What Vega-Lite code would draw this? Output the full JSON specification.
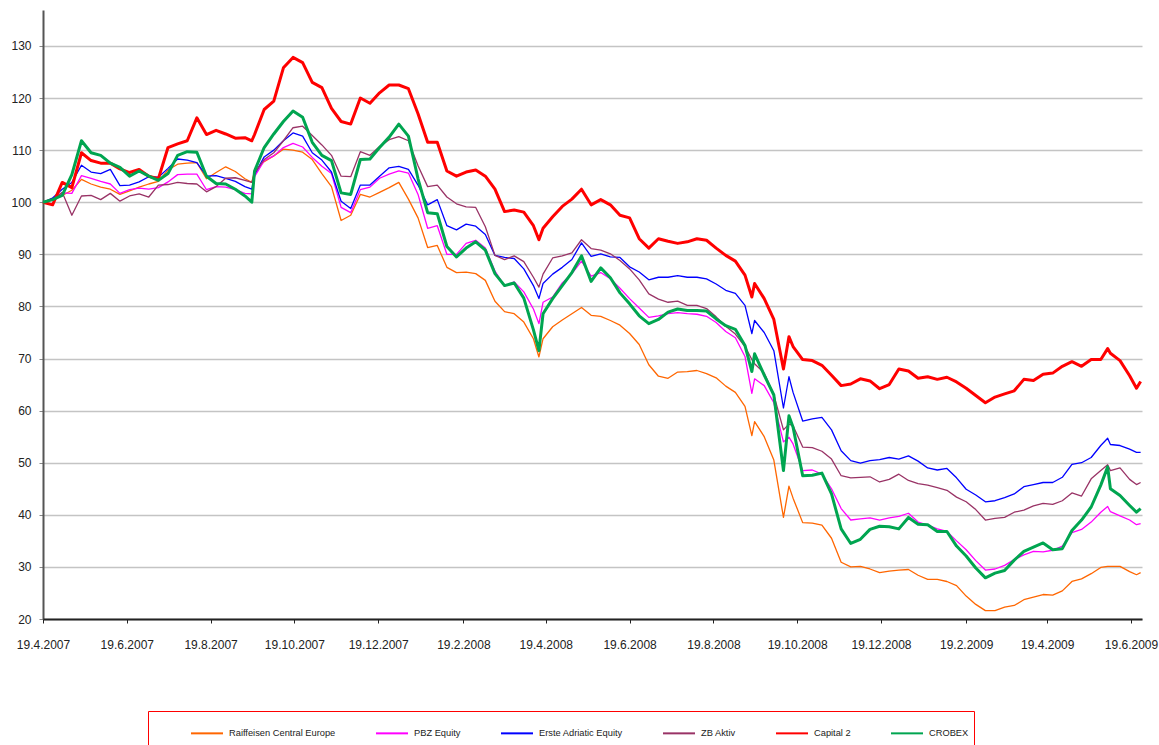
{
"$schema": "https://vega.github.io/schema/vega-lite/v6.json",
"width": 1099,
"height": 609,
"autosize": {"type": "none"},
"padding": {"left": 43, "top": 10, "right": 17, "bottom": 126},
"background": "white",
"config": {
  "view": {"stroke": null},
  "font": "Liberation Sans",
  "legend": {
    "orient": "none", "legendX": 105, "legendY": 701,
    "direction": "horizontal", "columns": 6,
    "titleOrient": "left", "titlePadding": 37, "titleFontSize": 40, "titleBaseline": "top",
    "padding": 5, "strokeColor": "#FF0000",
    "symbolType": "stroke", "symbolSize": 1024, "symbolStrokeWidth": 2,
    "labelFont": "Liberation Sans", "labelFontSize": 9.3, "labelColor": "#222222",
    "columnPadding": 36, "labelOffset": 5, "labelLimit": 0
  }
},
"data": {"values": [
{"d":"2007-04-19","r":100,"p":100,"e":100,"z":100,"c":100,"x":100},
{"d":"2007-04-26","r":100.8,"p":100.5,"e":100.8,"z":100.5,"c":99.5,"x":100.5},
{"d":"2007-05-03","r":101.3,"p":101.8,"e":102.5,"z":101.9,"c":103.8,"x":101.3},
{"d":"2007-05-10","r":102.3,"p":101.7,"e":103.8,"z":97.5,"c":102.8,"x":105.3},
{"d":"2007-05-17","r":104.4,"p":105.1,"e":107.1,"z":101.2,"c":109.5,"x":111.8},
{"d":"2007-05-24","r":103.5,"p":104.6,"e":105.8,"z":101.3,"c":108,"x":109.5},
{"d":"2007-05-31","r":102.9,"p":104,"e":105.5,"z":100.5,"c":107.5,"x":109},
{"d":"2007-06-07","r":102.5,"p":103.5,"e":106.3,"z":101.7,"c":107.5,"x":107.5},
{"d":"2007-06-14","r":101.5,"p":101.7,"e":103.2,"z":100.2,"c":106.4,"x":106.7},
{"d":"2007-06-21","r":102.2,"p":102.4,"e":103.3,"z":101.2,"c":105.7,"x":105},
{"d":"2007-06-28","r":102.9,"p":102.7,"e":103.9,"z":101.6,"c":106.3,"x":106},
{"d":"2007-07-05","r":103.5,"p":102.5,"e":104.9,"z":101,"c":105,"x":105},
{"d":"2007-07-12","r":104,"p":102.8,"e":104.8,"z":103.3,"c":104.5,"x":104.2},
{"d":"2007-07-19","r":106.2,"p":103.9,"e":106.5,"z":103.4,"c":110.5,"x":105.5},
{"d":"2007-07-26","r":107.3,"p":105.3,"e":108.3,"z":103.8,"c":111.2,"x":109},
{"d":"2007-08-02","r":107.5,"p":105.4,"e":108.1,"z":103.6,"c":111.8,"x":109.7},
{"d":"2007-08-09","r":107.6,"p":105.4,"e":107.6,"z":103.5,"c":116.2,"x":109.6},
{"d":"2007-08-16","r":104.5,"p":102.4,"e":105,"z":102,"c":113,"x":105},
{"d":"2007-08-23","r":105.7,"p":103,"e":105.1,"z":103,"c":113.8,"x":103.6},
{"d":"2007-08-30","r":106.8,"p":102.9,"e":104.6,"z":104.6,"c":113.1,"x":103.5},
{"d":"2007-09-06","r":105.9,"p":102.4,"e":104,"z":104.7,"c":112.3,"x":102.5},
{"d":"2007-09-13","r":104.5,"p":101.7,"e":103,"z":104.2,"c":112.4,"x":101.2},
{"d":"2007-09-18","r":103.8,"p":101.6,"e":102.5,"z":103.8,"c":111.8,"x":100},
{"d":"2007-09-20","r":106,"p":104.9,"e":105.3,"z":105.6,"c":113,"x":106},
{"d":"2007-09-27","r":107.8,"p":108,"e":108.7,"z":108.2,"c":117.8,"x":110.5},
{"d":"2007-10-04","r":108.9,"p":108.9,"e":110,"z":109.5,"c":119.4,"x":113.1},
{"d":"2007-10-11","r":110.2,"p":110.5,"e":111.8,"z":111.8,"c":125.8,"x":115.5},
{"d":"2007-10-18","r":110,"p":111.3,"e":113.3,"z":114.3,"c":127.8,"x":117.5},
{"d":"2007-10-25","r":109.6,"p":110.6,"e":112.7,"z":114.6,"c":126.8,"x":116.3},
{"d":"2007-11-01","r":108.2,"p":108.6,"e":109.5,"z":112.8,"c":123,"x":111.5},
{"d":"2007-11-08","r":105.5,"p":106.9,"e":108.1,"z":111,"c":122,"x":109},
{"d":"2007-11-15","r":103,"p":105.5,"e":105.8,"z":109,"c":118,"x":108},
{"d":"2007-11-22","r":96.5,"p":99,"e":100.2,"z":105,"c":115.5,"x":101.8},
{"d":"2007-11-29","r":97.5,"p":98,"e":98.8,"z":104.9,"c":115,"x":101.5},
{"d":"2007-12-06","r":101.5,"p":102.4,"e":103.3,"z":109.7,"c":120,"x":108.2},
{"d":"2007-12-13","r":101,"p":102.9,"e":103.3,"z":109,"c":119,"x":108.3},
{"d":"2007-12-20","r":101.9,"p":104.6,"e":105,"z":110.7,"c":121,"x":110.5},
{"d":"2007-12-27","r":102.8,"p":105.4,"e":106.6,"z":112,"c":122.5,"x":112.5},
{"d":"2008-01-03","r":103.8,"p":106,"e":106.9,"z":112.6,"c":122.5,"x":115},
{"d":"2008-01-10","r":100.6,"p":105.6,"e":106.3,"z":111.8,"c":121.8,"x":112.7},
{"d":"2008-01-17","r":97,"p":101.5,"e":103.3,"z":107,"c":117,"x":104.5},
{"d":"2008-01-24","r":91.3,"p":95,"e":99.5,"z":103,"c":111.5,"x":98},
{"d":"2008-01-31","r":91.7,"p":95.5,"e":100.5,"z":103.3,"c":111.5,"x":97.8},
{"d":"2008-02-07","r":87.5,"p":90,"e":95.5,"z":101,"c":106,"x":91.5},
{"d":"2008-02-14","r":86.5,"p":90,"e":94.7,"z":99.7,"c":105,"x":89.5},
{"d":"2008-02-21","r":86.6,"p":92.1,"e":95.8,"z":99.1,"c":105.8,"x":91.2},
{"d":"2008-02-28","r":86.3,"p":92.7,"e":95.4,"z":99,"c":106.2,"x":92.4},
{"d":"2008-03-06","r":85,"p":91.2,"e":93.8,"z":95.3,"c":105,"x":90.8},
{"d":"2008-03-13","r":81,"p":86.8,"e":89.8,"z":89.8,"c":102.5,"x":86.3},
{"d":"2008-03-20","r":79,"p":83.9,"e":89.4,"z":89,"c":98.2,"x":84},
{"d":"2008-03-27","r":78.6,"p":84.7,"e":89.2,"z":89.7,"c":98.5,"x":84.5},
{"d":"2008-04-03","r":77,"p":82.8,"e":87.2,"z":88.6,"c":98.1,"x":81.6},
{"d":"2008-04-10","r":73.8,"p":79.5,"e":84,"z":85.6,"c":95.5,"x":75.5},
{"d":"2008-04-14","r":70.3,"p":76.7,"e":81.5,"z":83.7,"c":92.8,"x":71.5},
{"d":"2008-04-17","r":73.8,"p":80.8,"e":84.4,"z":86.2,"c":95,"x":78.6},
{"d":"2008-04-24","r":76.1,"p":81.8,"e":86.2,"z":89.3,"c":97.2,"x":81.5},
{"d":"2008-05-01","r":77.4,"p":84.5,"e":87.5,"z":89.7,"c":99.2,"x":84},
{"d":"2008-05-08","r":78.6,"p":86.3,"e":89,"z":90.3,"c":100.6,"x":86.5},
{"d":"2008-05-15","r":79.8,"p":88.7,"e":92.2,"z":92.8,"c":102.5,"x":89.7},
{"d":"2008-05-22","r":78.3,"p":85.8,"e":89.6,"z":91.1,"c":99.5,"x":84.8},
{"d":"2008-05-29","r":78.1,"p":86.5,"e":90.1,"z":90.8,"c":100.5,"x":87.4},
{"d":"2008-06-05","r":77.3,"p":85.3,"e":89.5,"z":90.1,"c":99.5,"x":85.5},
{"d":"2008-06-12","r":76.4,"p":83.5,"e":89.4,"z":88.8,"c":97.5,"x":82.6},
{"d":"2008-06-19","r":74.8,"p":81.5,"e":87.6,"z":87.2,"c":97,"x":80.5},
{"d":"2008-06-26","r":72.7,"p":79.7,"e":86.6,"z":85.1,"c":93,"x":78.2},
{"d":"2008-07-03","r":68.8,"p":77.9,"e":85.1,"z":82.4,"c":91.2,"x":76.7},
{"d":"2008-07-10","r":66.6,"p":78.2,"e":85.6,"z":81.4,"c":93,"x":77.5},
{"d":"2008-07-17","r":66.2,"p":78.6,"e":85.6,"z":80.8,"c":92.5,"x":78.9},
{"d":"2008-07-24","r":67.4,"p":78.8,"e":85.9,"z":81,"c":92.1,"x":79.5},
{"d":"2008-07-31","r":67.5,"p":78.6,"e":85.6,"z":80.2,"c":92.4,"x":79.2},
{"d":"2008-08-07","r":67.7,"p":78.5,"e":85.6,"z":80.2,"c":93,"x":79.2},
{"d":"2008-08-14","r":67.1,"p":78.1,"e":85.3,"z":79.6,"c":92.7,"x":79.1},
{"d":"2008-08-21","r":66.3,"p":76.9,"e":84.3,"z":78,"c":91.2,"x":77.6},
{"d":"2008-08-28","r":64.7,"p":75.2,"e":83.1,"z":76.2,"c":89.8,"x":76.3},
{"d":"2008-09-04","r":63.5,"p":74,"e":82.5,"z":74.7,"c":88.7,"x":75.6},
{"d":"2008-09-11","r":60.8,"p":70.4,"e":80.2,"z":72.3,"c":86,"x":72.5},
{"d":"2008-09-16","r":55.2,"p":63.3,"e":74.8,"z":69.8,"c":81.8,"x":67.5},
{"d":"2008-09-18","r":57.9,"p":66.1,"e":77.3,"z":69,"c":84.4,"x":70.9},
{"d":"2008-09-25","r":55,"p":64.8,"e":75,"z":67.2,"c":81.5,"x":66.8},
{"d":"2008-10-02","r":50.5,"p":61.5,"e":71.5,"z":63,"c":77.5,"x":63},
{"d":"2008-10-09","r":39.5,"p":54,"e":60.5,"z":56.3,"c":68,"x":48.5},
{"d":"2008-10-13","r":45.5,"p":54.9,"e":66.5,"z":57.4,"c":74.2,"x":59},
{"d":"2008-10-16","r":43.2,"p":53.6,"e":63.5,"z":57.1,"c":72.3,"x":56.8},
{"d":"2008-10-23","r":38.5,"p":48.5,"e":58,"z":53,"c":69.8,"x":47.5},
{"d":"2008-10-30","r":38.4,"p":48.6,"e":58.4,"z":52.9,"c":69.6,"x":47.6},
{"d":"2008-11-06","r":38,"p":47.8,"e":58.7,"z":52.2,"c":68.7,"x":48},
{"d":"2008-11-13","r":35.5,"p":45,"e":56.3,"z":50.7,"c":66.8,"x":44},
{"d":"2008-11-20","r":30.9,"p":41.2,"e":52.3,"z":47.5,"c":64.8,"x":37.3},
{"d":"2008-11-27","r":30,"p":39,"e":50.4,"z":47.1,"c":65.1,"x":34.5},
{"d":"2008-12-04","r":30.1,"p":39.2,"e":49.9,"z":47.2,"c":66.1,"x":35.3},
{"d":"2008-12-11","r":29.6,"p":39.4,"e":50.4,"z":47.3,"c":65.7,"x":37.2},
{"d":"2008-12-18","r":28.9,"p":39,"e":50.6,"z":46.3,"c":64.2,"x":37.8},
{"d":"2008-12-25","r":29.2,"p":39.4,"e":51,"z":46.8,"c":65,"x":37.7},
{"d":"2009-01-01","r":29.4,"p":39.7,"e":50.7,"z":47.8,"c":68,"x":37.3},
{"d":"2009-01-08","r":29.5,"p":40.3,"e":51.3,"z":46.6,"c":67.6,"x":39.5},
{"d":"2009-01-15","r":28.4,"p":38.6,"e":50.3,"z":46,"c":66.2,"x":38.2},
{"d":"2009-01-22","r":27.6,"p":38,"e":49,"z":45.7,"c":66.5,"x":38.1},
{"d":"2009-01-29","r":27.6,"p":37.3,"e":48.6,"z":45.2,"c":66,"x":36.8},
{"d":"2009-02-05","r":27.2,"p":36.8,"e":48.9,"z":44.7,"c":66.4,"x":36.8},
{"d":"2009-02-12","r":26.4,"p":35,"e":47.1,"z":43.4,"c":65.5,"x":34},
{"d":"2009-02-19","r":24.4,"p":33.3,"e":44.9,"z":42.5,"c":64.3,"x":32.1},
{"d":"2009-02-26","r":22.8,"p":31.2,"e":43.8,"z":41,"c":62.9,"x":29.8},
{"d":"2009-03-05","r":21.6,"p":29.4,"e":42.5,"z":39,"c":61.5,"x":27.9},
{"d":"2009-03-12","r":21.6,"p":29.6,"e":42.7,"z":39.3,"c":62.6,"x":28.8},
{"d":"2009-03-19","r":22.3,"p":30.3,"e":43.3,"z":39.5,"c":63.2,"x":29.3},
{"d":"2009-03-26","r":22.6,"p":31.4,"e":44,"z":40.5,"c":63.8,"x":31.3},
{"d":"2009-04-02","r":23.7,"p":32.3,"e":45.4,"z":40.9,"c":66,"x":33},
{"d":"2009-04-09","r":24.2,"p":33,"e":45.8,"z":41.7,"c":65.8,"x":33.8},
{"d":"2009-04-16","r":24.7,"p":32.9,"e":46.2,"z":42.2,"c":67,"x":34.6},
{"d":"2009-04-23","r":24.6,"p":33.2,"e":46.2,"z":42,"c":67.2,"x":33.3},
{"d":"2009-04-30","r":25.4,"p":34,"e":47.2,"z":42.7,"c":68.5,"x":33.5},
{"d":"2009-05-07","r":27.2,"p":36.6,"e":49.7,"z":44.2,"c":69.4,"x":37},
{"d":"2009-05-14","r":27.7,"p":37.2,"e":50,"z":43.6,"c":68.5,"x":39},
{"d":"2009-05-21","r":28.7,"p":38.6,"e":51,"z":46.9,"c":69.8,"x":41.5},
{"d":"2009-05-28","r":29.9,"p":40.5,"e":53.3,"z":48.5,"c":69.8,"x":45.7},
{"d":"2009-06-02","r":30.1,"p":41.6,"e":54.7,"z":49.6,"c":71.9,"x":49.2},
{"d":"2009-06-04","r":30.1,"p":40.6,"e":53.5,"z":48.5,"c":71,"x":45},
{"d":"2009-06-11","r":30.1,"p":39.8,"e":53.3,"z":49,"c":69.6,"x":43.7},
{"d":"2009-06-18","r":29.1,"p":39,"e":52.6,"z":46.8,"c":66.7,"x":41.8},
{"d":"2009-06-23","r":28.5,"p":38.1,"e":52,"z":45.8,"c":64.3,"x":40.5},
{"d":"2009-06-26","r":28.9,"p":38.3,"e":52,"z":46.2,"c":65.6,"x":41.2}
]},
"transform": [
  {"fold": ["r","p","e","z","c","x"], "as": ["key","v"]},
  {"filter": "isValid(datum.v)"},
  {"lookup": "key", "from": {"data": {"values": [
    {"key":"r","name":"Raiffeisen Central Europe"},
    {"key":"p","name":"PBZ Equity"},
    {"key":"e","name":"Erste Adriatic Equity"},
    {"key":"z","name":"ZB Aktiv"},
    {"key":"c","name":"Capital 2"},
    {"key":"x","name":"CROBEX"}
  ]}, "key": "key", "fields": ["name"]}}
],
"encoding": {
  "x": {"field": "d", "type": "temporal",
    "scale": {"type": "utc", "domain": [{"year":2007,"month":4,"date":19,"utc":true},{"year":2009,"month":6,"date":27,"utc":true}]},
    "axis": {"title": null, "grid": false, "zindex": 1,
      "values": [
        {"year":2007,"month":4,"date":19,"utc":true},{"year":2007,"month":6,"date":19,"utc":true},
        {"year":2007,"month":8,"date":19,"utc":true},{"year":2007,"month":10,"date":19,"utc":true},
        {"year":2007,"month":12,"date":19,"utc":true},{"year":2008,"month":2,"date":19,"utc":true},
        {"year":2008,"month":4,"date":19,"utc":true},{"year":2008,"month":6,"date":19,"utc":true},
        {"year":2008,"month":8,"date":19,"utc":true},{"year":2008,"month":10,"date":19,"utc":true},
        {"year":2008,"month":12,"date":19,"utc":true},{"year":2009,"month":2,"date":19,"utc":true},
        {"year":2009,"month":4,"date":19,"utc":true},{"year":2009,"month":6,"date":19,"utc":true}
      ],
      "labelExpr": "utcFormat(datum.value, '%-d.%-m.%Y')",
      "domainColor": "#222222", "domainWidth": 2,
      "tickColor": "#222222", "tickSize": 4, "tickWidth": 1,
      "labelFontSize": 12, "labelColor": "#222222", "labelPadding": 16,
      "labelOverlap": false, "labelFlush": false, "labelBound": false}},
  "y": {"field": "v", "type": "quantitative",
    "scale": {"domain": [20, 136.9], "nice": false, "zero": false},
    "axis": {"title": null, "values": [20,30,40,50,60,70,80,90,100,110,120,130],
      "grid": true, "gridColor": "#C4C4C4", "gridWidth": 1.5,
      "domainColor": "#555555", "domainWidth": 2,
      "tickColor": "#888888", "tickSize": 4,
      "labelFontSize": 12, "labelColor": "#222222", "labelPadding": 8}},
  "color": {"field": "name", "type": "nominal",
    "scale": {"domain": ["Raiffeisen Central Europe","PBZ Equity","Erste Adriatic Equity","ZB Aktiv","Capital 2","CROBEX"],
              "range": ["#FF6600","#FF00FF","#0000FF","#993366","#FF0000","#00A550"]},
    "legend": {"title": " ", "symbolStrokeWidth": 2,
      "encode": {"symbols": {"update": {"strokeWidth": {"value": 2}}}}}}
},
"layer": [
  {"transform": [{"filter": {"field": "name", "oneOf": ["Raiffeisen Central Europe","PBZ Equity","Erste Adriatic Equity","ZB Aktiv"]}}],
   "mark": {"type": "line", "strokeWidth": 1.3, "strokeJoin": "round"}},
  {"transform": [{"filter": {"field": "name", "oneOf": ["Capital 2","CROBEX"]}}],
   "mark": {"type": "line", "strokeWidth": 3, "strokeJoin": "round"}}
]
}
